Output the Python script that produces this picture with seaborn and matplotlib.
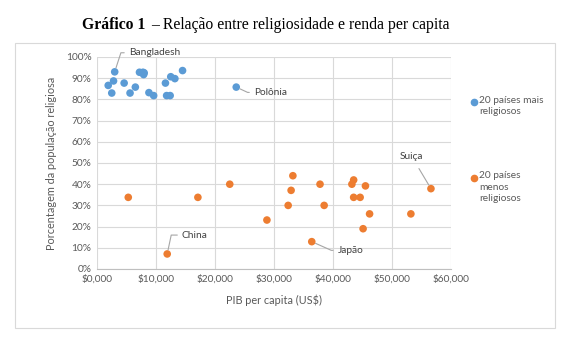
import matplotlib
matplotlib.use("Agg")
import matplotlib.pyplot as plt
import seaborn as sns
import pandas as pd
from matplotlib.patches import Rectangle
from matplotlib.lines import Line2D

# ---- data ----
mais_gdp = [3000, 1900, 2500, 2800, 4600, 5600, 6500, 7200, 7800, 7900, 8000,
            8800, 9600, 11600, 11800, 12400, 12500, 13200, 14500, 23600]
mais_pct = [93, 86.6, 83, 88.7, 87.7, 83, 85.8, 92.8, 92.8, 91.7, 92.5,
            83.2, 81.8, 87.7, 81.8, 81.8, 90.7, 89.8, 93.6, 85.8]
menos_gdp = [5300, 17100, 22500, 28800, 32400, 32900, 33200, 37800, 38500, 36400,
             11900, 43200, 43500, 43500, 44600, 45500, 45100, 46200, 53200, 56600]
menos_pct = [33.8, 33.8, 40, 23.1, 30, 37.1, 44, 40, 30, 12.9,
             7.1, 40, 42, 33.8, 33.8, 39.2, 19, 26, 26, 37.9]
series_names = ["20 países mais\nreligiosos", "20 países\nmenos\nreligiosos"]
x_ticks = [0, 10000, 20000, 30000, 40000, 50000, 60000]
x_ticklabels = ["$0,000", "$10,000", "$20,000", "$30,000", "$40,000", "$50,000", "$60,000"]
y_ticks = [0, 10, 20, 30, 40, 50, 60, 70, 80, 90, 100]
y_ticklabels = [f"{v}%" for v in y_ticks]
labels = {"Bangladesh": (3000, 93), "Polônia": (23600, 85.8), "China": (11900, 7.1),
          "Japão": (36400, 12.9), "Suiça": (56600, 37.9)}

df = pd.DataFrame({
    "gdp": mais_gdp + menos_gdp,
    "pct": mais_pct + menos_pct,
    "grupo": [series_names[0]] * len(mais_gdp) + [series_names[1]] * len(menos_gdp),
})

sns.set_style("white")
plt.rcParams["font.family"] = ["Lato", "DejaVu Sans"]

W, H = 570, 338
fig = plt.figure(figsize=(W / 100, H / 100), dpi=100)
ax = fig.add_axes([97 / W, 1 - 269 / H, (451 - 97) / W, (269 - 57) / H])

colors = {series_names[0]: "#5B9BD5", series_names[1]: "#ED7D31"}
sns.scatterplot(data=df, x="gdp", y="pct", hue="grupo", palette=colors, s=30,
                edgecolor="none", ax=ax, legend=False, zorder=3)

ax.set_xlim(0, 60000)
ax.set_ylim(0, 100)
ax.set_xticks(x_ticks)
ax.set_xticklabels(x_ticklabels)
ax.set_yticks(y_ticks)
ax.set_yticklabels(y_ticklabels)
ax.tick_params(axis="both", labelsize=7.3, colors="#595959", length=0, pad=4)
ax.grid(True, color="#d9d9d9", lw=0.8)
ax.set_axisbelow(True)
for s in ["top", "right", "left"]:
    ax.spines[s].set_visible(False)
ax.spines["bottom"].set_color("#bfbfbf")
ax.spines["bottom"].set_linewidth(0.8)

ax.set_xlabel("PIB per capita (US$)", fontsize=7.8, color="#595959", labelpad=8)
ax.set_ylabel("Porcentagem da população religiosa", fontsize=7.8, color="#595959", labelpad=6)

# annotations
ann = dict(fontsize=7.3, color="#404040", annotation_clip=False)
lc = "#a6a6a6"
ax.annotate("Bangladesh", xy=labels["Bangladesh"], xytext=(5400, 102), ha="left", va="center",
            arrowprops=dict(arrowstyle="-", color=lc, lw=0.8, shrinkA=1, shrinkB=3,
                            connectionstyle="angle,angleA=0,angleB=72"), **ann)
ax.annotate("Polônia", xy=labels["Polônia"], xytext=(26600, 83.3), ha="left", va="center",
            arrowprops=dict(arrowstyle="-", color=lc, lw=0.8, shrinkA=1, shrinkB=3,
                            connectionstyle="angle,angleA=0,angleB=-25"), **ann)
ax.annotate("China", xy=labels["China"], xytext=(14400, 16), ha="left", va="center",
            arrowprops=dict(arrowstyle="-", color=lc, lw=0.8, shrinkA=1, shrinkB=3,
                            connectionstyle="angle,angleA=0,angleB=78"), **ann)
ax.annotate("Japão", xy=labels["Japão"], xytext=(40800, 8.8), ha="left", va="center",
            arrowprops=dict(arrowstyle="-", color=lc, lw=0.8, shrinkA=1, shrinkB=3,
                            connectionstyle="angle,angleA=0,angleB=-24"), **ann)
ax.annotate("Suiça", xy=labels["Suiça"], xytext=(53300, 53.3), ha="center", va="center",
            arrowprops=dict(arrowstyle="-", color=lc, lw=0.8, shrinkA=4, shrinkB=3), **ann)

# legend (manual, in figure pixels)
for name, my in zip(series_names, [102, 178]):
    fig.add_artist(Line2D([474 / W], [1 - my / H], marker="o", ls="none", color=colors[name],
                          markersize=4.5, transform=fig.transFigure))
    fig.text(479 / W, 1 - (my - 6.5) / H, name, fontsize=7.3, color="#595959",
             ha="left", va="top", linespacing=1.32)

# title
fig.text(82 / W, 1 - 25 / H, "Gráfico 1", fontsize=11.3, fontweight="bold",
         family="Liberation Serif", ha="left", va="center", color="#000000")
fig.text(151 / W, 1 - 25 / H, "– Relação entre religiosidade e renda per capita", fontsize=11.3,
         family="Liberation Serif", ha="left", va="center", color="#000000")

# chart border
fig.add_artist(Rectangle((15 / W, 1 - 328 / H), 540 / W, 285 / H, transform=fig.transFigure,
                         fill=False, edgecolor="#d9d9d9", lw=0.8))

fig.savefig("out.png", dpi=100)
